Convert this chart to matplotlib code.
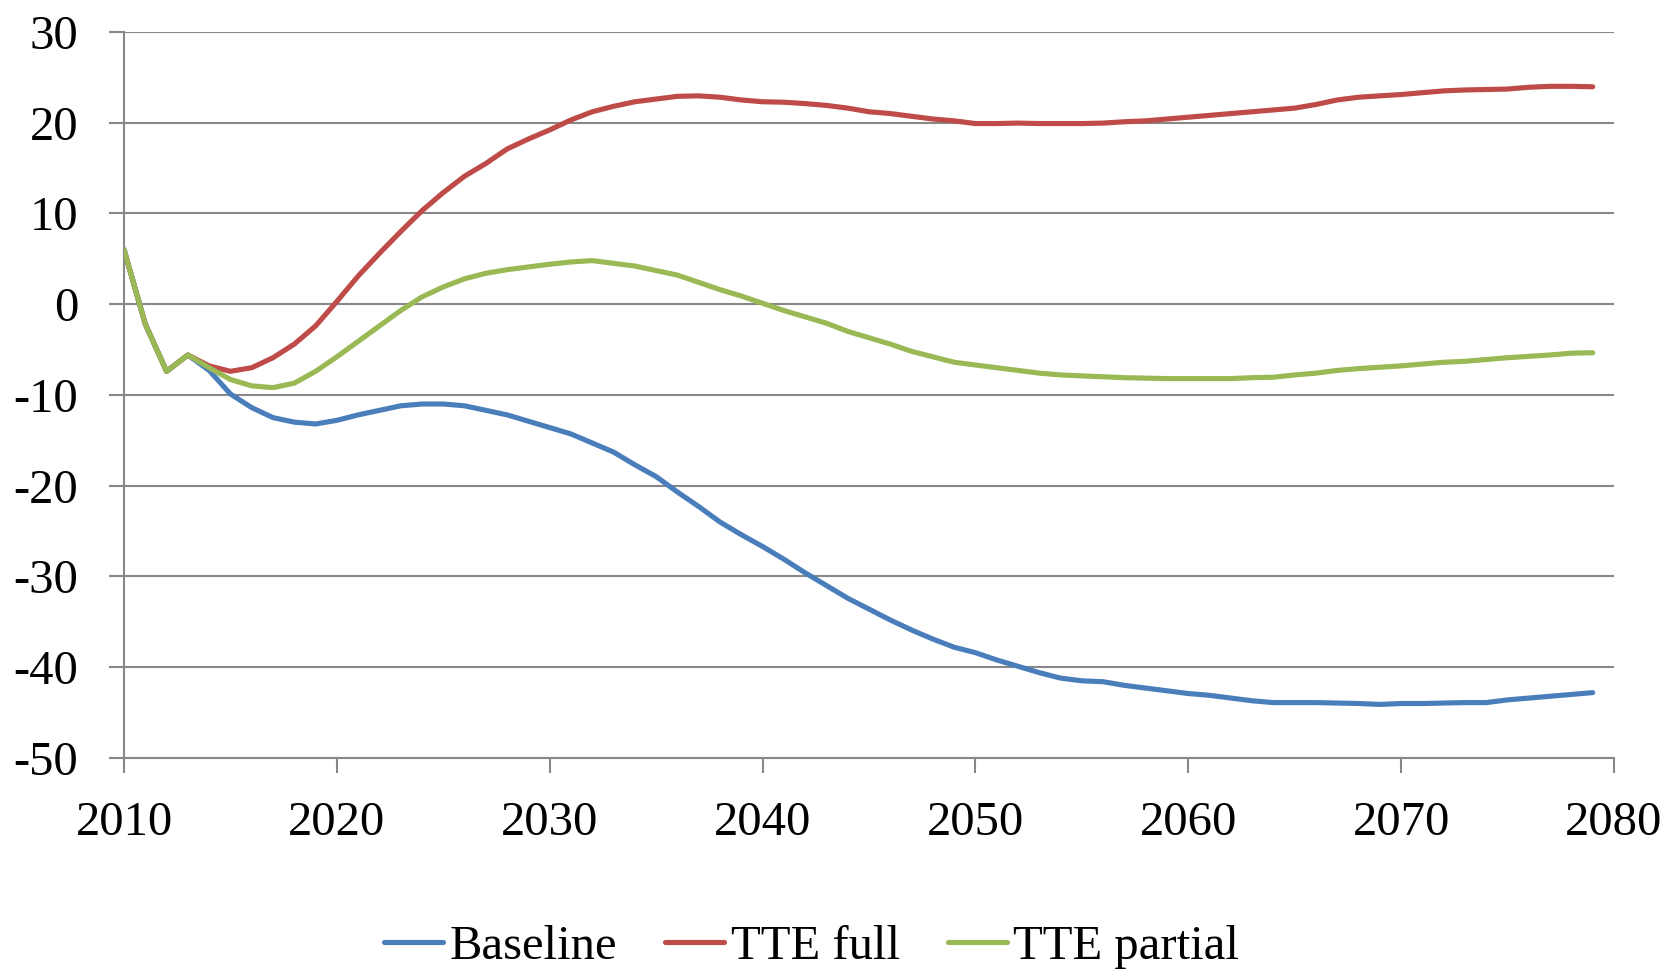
import matplotlib
matplotlib.use("Agg")
import matplotlib.pyplot as plt

years = list(range(2010, 2080))

baseline = [
    6.0, -2.2, -7.4, -5.6, -7.3, -9.9, -11.4, -12.5, -13.0, -13.2,
    -12.8, -12.2, -11.7, -11.2, -11.0, -11.0, -11.2, -11.7, -12.2, -12.9,
    -13.6, -14.3, -15.3, -16.3, -17.7, -19.0, -20.7, -22.3, -24.0, -25.4,
    -26.7, -28.1, -29.6, -31.0, -32.4, -33.6, -34.8, -35.9, -36.9, -37.8,
    -38.4, -39.2, -39.9, -40.6, -41.2, -41.5, -41.6, -42.0, -42.3, -42.6,
    -42.9, -43.1, -43.4, -43.7, -43.9, -43.9, -43.9, -43.95, -44.0, -44.1,
    -44.0, -44.0, -43.95, -43.9, -43.9, -43.6, -43.4, -43.2, -43.0, -42.8,
]

tte_full = [
    6.0, -2.2, -7.4, -5.6, -6.8, -7.4, -7.0, -5.9, -4.4, -2.4,
    0.3, 3.1, 5.6, 8.0, 10.3, 12.3, 14.1, 15.5, 17.1, 18.2,
    19.2, 20.3, 21.2, 21.8, 22.3, 22.6, 22.9, 22.95, 22.8, 22.5,
    22.3, 22.25, 22.1, 21.9, 21.6, 21.2, 21.0, 20.7, 20.4, 20.2,
    19.9, 19.9, 19.95, 19.9, 19.9, 19.9, 19.95, 20.1, 20.2, 20.4,
    20.6, 20.8, 21.0, 21.2, 21.4, 21.6, 22.0, 22.5, 22.8, 22.95,
    23.1, 23.3, 23.5, 23.6, 23.65, 23.7, 23.9, 24.0, 24.0, 23.95,
]

tte_partial = [
    6.0, -2.2, -7.4, -5.6, -7.0, -8.3, -9.0, -9.2, -8.7, -7.4,
    -5.8, -4.1, -2.4, -0.7, 0.8, 1.9, 2.8, 3.4, 3.8, 4.1,
    4.4, 4.65, 4.8, 4.5, 4.2, 3.7, 3.2, 2.4, 1.6, 0.9,
    0.1, -0.7, -1.4, -2.1, -3.0, -3.7, -4.4, -5.2, -5.8, -6.4,
    -6.7, -7.0, -7.3, -7.6, -7.8, -7.9, -8.0, -8.1, -8.15, -8.2,
    -8.2, -8.2, -8.2, -8.1, -8.05, -7.8, -7.6, -7.3, -7.1, -6.95,
    -6.8, -6.6, -6.4, -6.3, -6.1, -5.9, -5.75, -5.6, -5.4, -5.35,
]

series_labels = ["Baseline", "TTE full", "TTE partial"]
series_colors = ["#4A7EBB", "#BE4B48", "#98B954"]

x_ticks = list(range(2010, 2081, 10))
y_ticks = list(range(-50, 31, 10))

plt.rcParams["font.family"] = ["Liberation Serif", "DejaVu Serif"]
grid_color = "#888888"

fig = plt.figure(figsize=(16.67, 9.72), dpi=100)
ax = fig.add_axes([0.0744, 0.2202, 0.8938, 0.7470])

for values, label, color in zip([baseline, tte_full, tte_partial],
                                series_labels, series_colors):
    ax.plot(years, values, color=color, lw=3.7, label=label,
            solid_joinstyle="round", solid_capstyle="round", zorder=3)

ax.set_xlim(2010, 2080)
ax.set_ylim(-50, 30)
ax.set_xticks(x_ticks)
ax.set_yticks(y_ticks)
ax.set_yticklabels([str(v) for v in y_ticks])

ax.grid(axis="y", color=grid_color, lw=1.5, zorder=1)
ax.set_axisbelow(True)
for side in ("top", "right"):
    ax.spines[side].set_visible(False)
for side in ("left", "bottom"):
    ax.spines[side].set_color(grid_color)
    ax.spines[side].set_linewidth(1.5)

ax.tick_params(axis="both", which="major", direction="out", length=10.8,
               width=1.5, color=grid_color, labelsize=35, labelcolor="black")
ax.tick_params(axis="y", pad=22)
ax.tick_params(axis="x", pad=20)

fig.legend(loc="center", bbox_to_anchor=(0.487, 0.026), ncol=3,
           frameon=False, fontsize=35, handlelength=1.2,
           handletextpad=0.14, columnspacing=1.0, borderpad=0)

fig.savefig("out.png", dpi=100, facecolor="white")
